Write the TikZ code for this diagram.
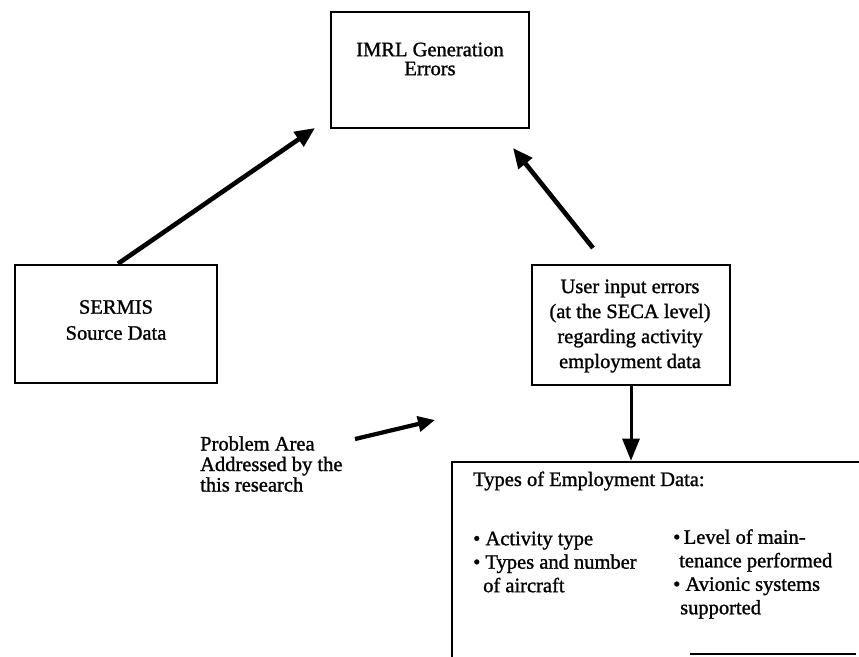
\documentclass[tikz,border=0pt]{standalone}
\usepackage{fontspec}
\setmainfont{Liberation Serif}[FakeBold=1.2]
\usetikzlibrary{arrows.meta}
\begin{document}
\begin{tikzpicture}[x=1pt,y=-1pt,
  box/.style={draw, line width=2.6pt, inner sep=0pt},
  txt/.style={inner sep=0pt, align=center, font=\fontsize{20.5}{#1}\selectfont},
  txt/.default=24,
  ltxt/.style={inner sep=0pt, align=left, font=\fontsize{20.5}{#1}\selectfont},
  ltxt/.default=23.5,
  bigarrow/.style={line width=4.6pt, -{Triangle[length=20pt,width=17pt]}},
  downarrow/.style={line width=3pt, -{Triangle[length=22pt,width=17pt]}}
]
\useasboundingbox (0,0) rectangle (859,656);
\clip (0,0) rectangle (859,656);

% boxes
\node[box, minimum width=198pt, minimum height=116pt] (imrl) at (430,70) {};
\node[txt=19] (imrlt) at (430,59) {IMRL Generation\\Errors};

\node[box, minimum width=202pt, minimum height=118pt] (sermis) at (116,324) {};
\node[txt=26] (sermist) at (116,320) {SERMIS\\Source Data};

\node[box, minimum width=198pt, minimum height=120pt] (user) at (631,325) {};
\node[txt=25] (usert) at (630,326) {User input errors\\(at the SECA level)\\regarding activity\\employment data};

\node[box, minimum width=428pt, minimum height=208pt] (emp) at (666,566) {};
\draw[line width=1.2pt] (690,654) -- (856,654);

\node[ltxt, anchor=west] (emph) at (473,481) {Types of Employment Data:};
\node[ltxt, anchor=west] (empl) at (473,562) {\textbullet\ Activity type\\\textbullet\ Types and number\\\hspace*{10pt}of aircraft};
\node[ltxt, anchor=west] (empr) at (673,574) {\textbullet\,Level of main-\\\hspace*{6pt}tenance performed\\\textbullet\ Avionic systems\\\hspace*{7pt}supported};

\node[ltxt=20.5, anchor=west] (prob) at (200,464) {Problem Area\\Addressed by the\\this research};

% connectors
\coordinate (a1e) at (315,128);
\coordinate (a2s) at (593,248);
\coordinate (a2e) at (513,148);
\coordinate (a4s) at (355,439);
\coordinate (a4e) at (435,420);

\draw[bigarrow] ([xshift=2pt]sermis.north) -- (a1e);
\draw[bigarrow] (a2s) -- (a2e);
\draw[downarrow] (user.south) -- (user.south |- emp.north);
\draw[line width=4.2pt, -{Triangle[length=17pt,width=15pt]}] (a4s) -- (a4e);
\end{tikzpicture}
\end{document}
